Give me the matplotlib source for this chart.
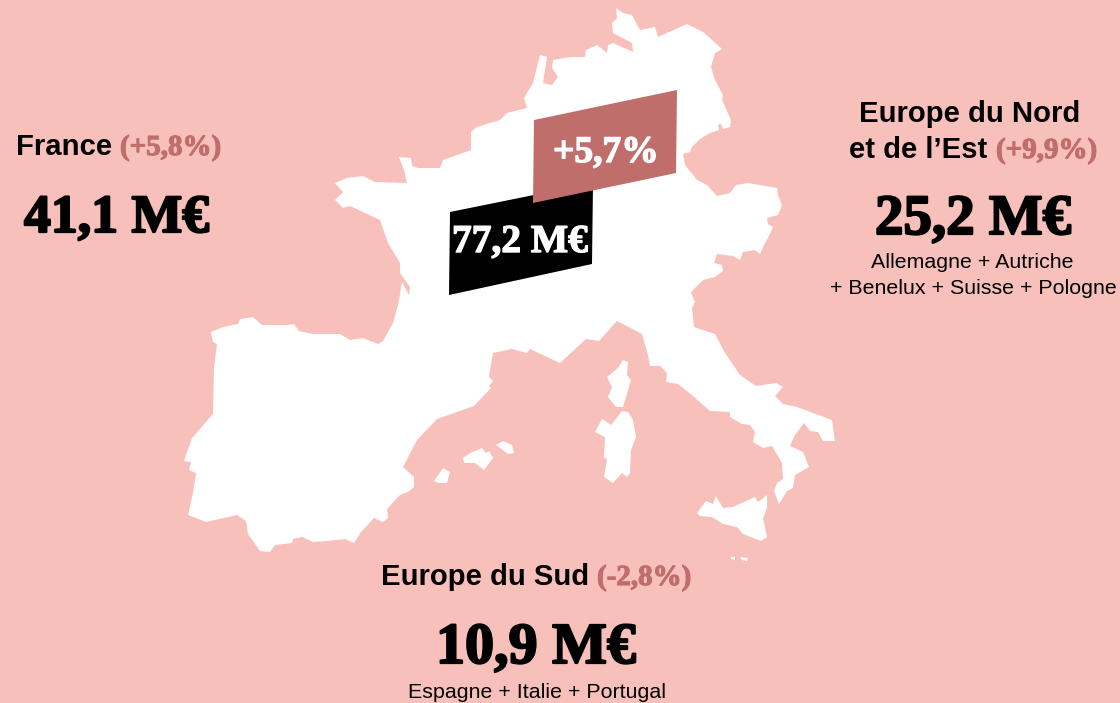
import matplotlib
matplotlib.use("Agg")
import matplotlib.pyplot as plt
from matplotlib.patches import Polygon
import matplotlib.patheffects as pe

BG = "#F8C0BA"
ROSE = "#BF6E6B"
SANS = "Liberation Sans"
SERIF = "Liberation Serif"

# Labels
region_labels = ["France", "Europe du Nord", "et de l’Est", "Europe du Sud"]
change_labels = ["(+5,8%)", "(+9,9%)", "(-2,8%)"]
amount_labels = ["41,1 M€", "25,2 M€", "10,9 M€"]
detail_labels = ["Allemagne + Autriche", "+ Benelux + Suisse + Pologne", "Espagne + Italie + Portugal"]
total_label = "77,2 M€"
total_change_label = "+5,7%"

# Map outline
mainland = [
 (211,332),(223,327),(238,324),(240,319),(253,317),(262,325),(287,325),(294,324),(299,331),(313,334),
 (340,334),(350,340),(363,338),(378,344),(383,341),(393,323),(398,305),(399,300),(402,282),(409,295),
 (410,287),(400,273),(400,263),(388,243),(380,220),(363,212),(350,206),(343,208),(335,200),(343,192),
 (335,183),(347,178),(363,176),(375,182),(407,183),(404,170),(399,157),(411,158),(412,166),(418,168),
 (440,168),(443,160),(471,150),(471,132),(477,127),(500,120),(507,113),(527,108),(524,98),(533,83),
 (540,55),(547,57),(543,83),(552,85),(558,77),(552,68),(553,60),(570,57),(585,57),(586,50),
 (597,45),(607,53),(608,45),(613,43),(633,52),(632,43),(613,33),(612,23),(617,18),(616,8),
 (623,13),(632,15),(640,30),(655,27),(658,37),(687,24),(703,32),(722,49),(715,53),(711,67),
 (715,80),(723,95),(722,100),(731,120),(730,127),(723,129),(721,124),(718,125),(719,130),(710,133),
 (700,139),(692,147),(690,152),(683,154),(685,165),(697,180),(707,185),(717,196),(730,193),(736,185),
 (748,183),(777,188),(778,195),(782,205),(778,215),(767,218),(768,224),(773,227),(767,240),(764,245),
 (760,254),(755,250),(743,252),(740,260),(733,256),(717,254),(714,263),(722,265),(723,271),(715,277),
 (703,280),(691,292),(695,302),(692,308),(694,327),(715,334),(725,353),(740,375),(756,386),(776,383),
 (783,387),(775,396),(783,404),(797,407),(832,420),(835,441),(823,441),(818,432),(810,431),(804,423),
 (795,435),(790,446),(803,452),(809,467),(795,475),(793,488),(787,491),(779,504),(774,491),(777,483),
 (783,479),(782,463),(772,446),(763,448),(753,442),(755,432),(750,425),(742,424),(730,417),(730,412),
 (710,411),(693,396),(678,384),(666,382),(667,373),(660,366),(650,366),(648,355),(642,334),(617,321),
 (599,341),(586,339),(560,363),(530,349),(527,353),(512,349),(493,353),(489,377),(493,381),(489,386),
 (491,388),(474,406),(437,419),(417,440),(403,467),(414,477),(414,487),(408,492),(400,495),(387,509),
 (388,518),(383,522),(374,518),(361,532),(354,543),(345,539),(327,541),(313,542),(302,537),(293,539),
 (292,543),(275,545),(270,552),(260,551),(248,534),(246,521),(237,515),(206,522),(188,515),(193,493),
 (196,473),(189,470),(191,462),(184,461),(192,438),(213,414),(214,367),(217,344),(213,342),
]
corsica = [(623,360),(628,362),(627,375),(631,380),(623,407),(616,407),(608,397),(612,387),(607,377),(618,368)]
sardinia = [(622,411),(628,412),(633,420),(636,437),(631,450),(630,473),(627,477),(622,473),(613,483),(604,477),
            (607,460),(604,457),(605,437),(595,432),(602,419),(611,425)]
sicily = [(697,513),(706,501),(713,504),(716,496),(723,508),(733,507),(755,497),(758,502),(767,495),(767,508),
          (763,518),(767,537),(761,541),(743,534),(737,527),(723,524),(712,517),(700,516)]
mallorca = [(463,458),(470,453),(482,448),(486,453),(489,451),(493,458),(484,470),(475,463),(464,463)]
menorca = [(496,445),(503,441),(512,445),(514,453),(508,454)]
ibiza = [(434,481),(443,468),(450,472),(447,483),(438,483)]
malta = [(731,557),(735,557),(735,560),(731,559)]
gozo = [(740,557),(748,558),(747,561),(742,560)]
land = [mainland, corsica, sardinia, sicily, mallorca, menorca, ibiza, malta, gozo]

black_box = [(450,212),(593,183),(592,264),(449,295)]
rose_box = [(534,120),(677,90),(676,173),(533,203)]

fig = plt.figure(figsize=(11.2, 7.03), dpi=100, facecolor=BG)
ax = fig.add_axes([0, 0, 1, 1])
ax.set_xlim(0, 1120)
ax.set_ylim(703, 0)
ax.axis("off")

for shape in land:
    ax.add_patch(Polygon(shape, closed=True, fc="white", ec="none"))
ax.add_patch(Polygon(black_box, closed=True, fc="black", ec="none"))
ax.add_patch(Polygon(rose_box, closed=True, fc=ROSE, ec="none"))


def fat(color, w):
    return [pe.withStroke(linewidth=w, foreground=color)]


region_xy = [(16, 155), (859, 122), (849, 158), (381, 585)]
change_xy = [(120, 155), (996, 158), (597, 585)]
amount_xy = [(24, 232), (875, 234), (436, 663)]
amount_sizes = [38.7, 41, 41.8]
detail_xy = [(871, 268), (830, 294), (408, 698)]

for s, (x, y) in zip(region_labels, region_xy):
    ax.text(x, y, s, family=SANS, weight="bold", fontsize=21.1, color="black", ha="left", va="baseline")
for s, (x, y) in zip(change_labels, change_xy):
    ax.text(x, y, s, family=SERIF, weight="bold", fontsize=20.9, color=ROSE, ha="left", va="baseline",
            path_effects=fat(ROSE, 0.8))
for s, (x, y), fs in zip(amount_labels, amount_xy, amount_sizes):
    ax.text(x, y, s, family=SERIF, weight="bold", fontsize=fs, color="black", ha="left", va="baseline",
            path_effects=fat("black", 1.6))
for s, (x, y) in zip(detail_labels, detail_xy):
    ax.text(x, y, s, family=SANS, fontsize=15.4, color="black", ha="left", va="baseline")

ax.text(452, 252, total_label, family=SERIF, weight="bold", fontsize=28.4, color="white", ha="left", va="baseline",
        path_effects=fat("white", 1.0))
ax.text(553, 162, total_change_label, family=SERIF, weight="bold", fontsize=27, color="white", ha="left", va="baseline",
        path_effects=fat("white", 1.0))

fig.savefig("out.png", dpi=100, facecolor=BG)
